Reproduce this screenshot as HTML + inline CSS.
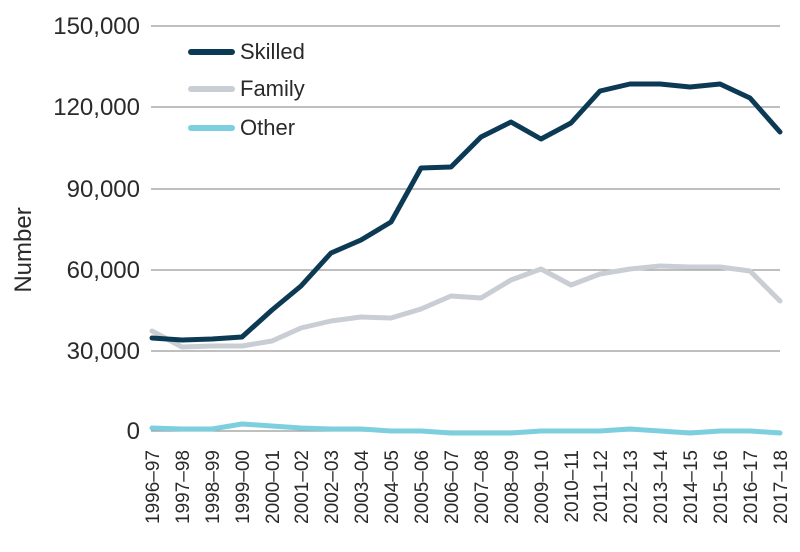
<!DOCTYPE html>
<html><head><style>body{margin:0;background:#fff}svg{display:block}text{font-family:"Liberation Sans",sans-serif;fill:#2a2a2a}</style></head><body>
<svg width="800" height="552" viewBox="0 0 800 552">
<g stroke="#999" stroke-width="1.3">
<line x1="151" y1="26" x2="780" y2="26"/><line x1="151" y1="107" x2="780" y2="107"/><line x1="151" y1="189" x2="780" y2="189"/><line x1="151" y1="270" x2="780" y2="270"/><line x1="151" y1="351" x2="780" y2="351"/><line x1="151" y1="431" x2="780" y2="431"/>
</g>
<g font-size="24" text-anchor="end">
<text x="140" y="34">150,000</text><text x="140" y="115">120,000</text><text x="140" y="197">90,000</text><text x="140" y="278">60,000</text><text x="140" y="359">30,000</text><text x="140" y="439">0</text>
</g>
<text transform="translate(31,250) rotate(-90)" font-size="24" text-anchor="middle">Number</text>
<g fill="none" stroke-width="5" stroke-linejoin="round" stroke-linecap="round">
<polyline stroke="#7dcfe0" points="152,428 182,429 212,429 242,424 272,426 301,428 331,429 361,429 391,431 421,431 451,433 481,433 511,433 541,431 571,431 600,431 630,429 660,431 690,433 720,431 750,431 780,433"/>
<polyline stroke="#c9ced5" points="152,331 182,347 212,346 242,346 272,341 301,328 331,321 361,317 391,318 421,309 451,296 481,298 511,280 541,269 571,285 600,274 630,269 660,266 690,267 720,267 750,271 780,301"/>
<polyline stroke="#0c3a55" points="152,338 182,340 212,339 242,337 272,310 301,286 331,253 361,240 391,222 421,168 451,167 481,137 511,122 541,139 571,123 600,91 630,84 660,84 690,87 720,84 750,98 780,132"/>
</g>
<g stroke-width="6" stroke-linecap="round">
<line x1="191" y1="52" x2="232" y2="52" stroke="#0c3a55"/>
<line x1="191" y1="89" x2="232" y2="89" stroke="#c9ced5"/>
<line x1="191" y1="128" x2="232" y2="128" stroke="#7dcfe0"/>
</g>
<g font-size="22"><text x="240" y="59">Skilled</text><text x="240" y="96">Family</text><text x="240" y="135">Other</text></g>
<g font-size="19" text-anchor="end">
<text transform="translate(159,450) rotate(-90)">1996–97</text>
<text transform="translate(189,450) rotate(-90)">1997–98</text>
<text transform="translate(219,450) rotate(-90)">1998–99</text>
<text transform="translate(249,450) rotate(-90)">1999–00</text>
<text transform="translate(279,450) rotate(-90)">2000–01</text>
<text transform="translate(308,450) rotate(-90)">2001–02</text>
<text transform="translate(338,450) rotate(-90)">2002–03</text>
<text transform="translate(368,450) rotate(-90)">2003–04</text>
<text transform="translate(398,450) rotate(-90)">2004–05</text>
<text transform="translate(428,450) rotate(-90)">2005–06</text>
<text transform="translate(458,450) rotate(-90)">2006–07</text>
<text transform="translate(488,450) rotate(-90)">2007–08</text>
<text transform="translate(518,450) rotate(-90)">2008–09</text>
<text transform="translate(548,450) rotate(-90)">2009–10</text>
<text transform="translate(578,450) rotate(-90)">2010–11</text>
<text transform="translate(607,450) rotate(-90)">2011–12</text>
<text transform="translate(637,450) rotate(-90)">2012–13</text>
<text transform="translate(667,450) rotate(-90)">2013–14</text>
<text transform="translate(697,450) rotate(-90)">2014–15</text>
<text transform="translate(727,450) rotate(-90)">2015–16</text>
<text transform="translate(757,450) rotate(-90)">2016–17</text>
<text transform="translate(787,450) rotate(-90)">2017–18</text>
</g>
</svg>
</body></html>
